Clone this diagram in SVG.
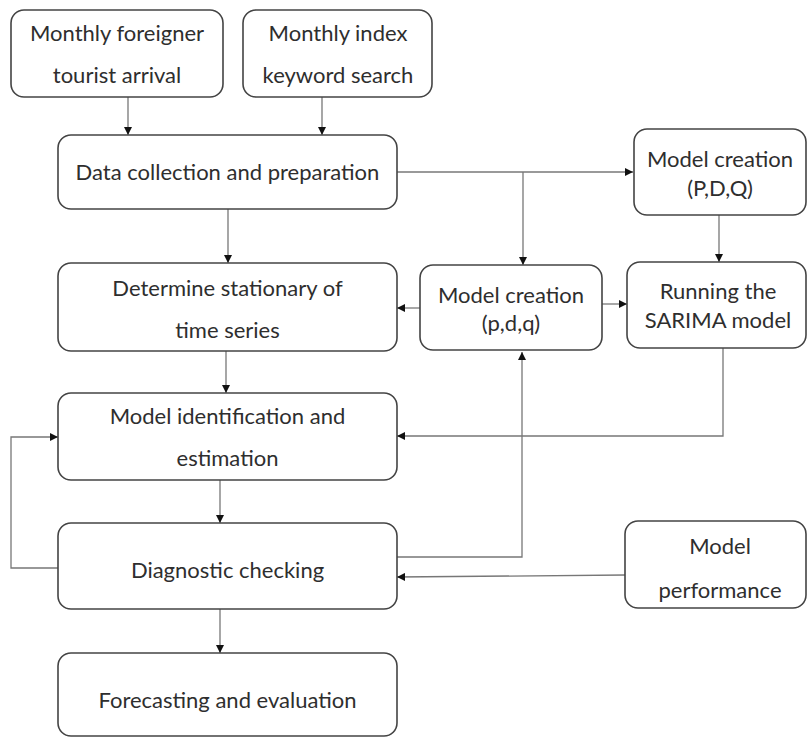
<svg xmlns="http://www.w3.org/2000/svg" width="808" height="738" viewBox="0 0 808 738">
<defs>
<marker id="ah" viewBox="0 0 10 10" refX="10" refY="5" markerWidth="8" markerHeight="8" markerUnits="userSpaceOnUse" orient="auto">
<path d="M0,0 L10,5 L0,10 z" fill="#111"/>
</marker>
<style>
.box{fill:#fff;stroke:#444;stroke-width:1.6}
.t{font-family:Lato,"Open Sans","Liberation Sans",sans-serif;font-size:22px;fill:#2e2e2e;text-anchor:middle}
.c{fill:none;stroke:#777;stroke-width:1.3}
.a{marker-end:url(#ah)}
</style>
</defs>
<rect width="808" height="738" fill="#fff"/>
<g id="connectors">
<path class="c a" d="M128,97 V135"/>
<path class="c a" d="M322,97 V135"/>
<path class="c a" d="M397,172 H633"/>
<path class="c a" d="M523,172 V265"/>
<path class="c a" d="M228,209 V263"/>
<path class="c a" d="M719,215 V262"/>
<path class="c a" d="M420,308 H397"/>
<path class="c a" d="M602,304 H627"/>
<path class="c a" d="M226,351 V393"/>
<path class="c a" d="M723,348 V436 H397"/>
<path class="c a" d="M220,480 V523"/>
<path class="c a" d="M397,557 H522 V352"/>
<path class="c a" d="M625,575 L397,577"/>
<path class="c a" d="M58,568 H11 V437 H58"/>
<path class="c a" d="M220,609 V653"/>
</g>
<g id="n-tourist">
<rect class="box" x="11" y="10" width="212" height="87" rx="13"/>
<text class="t" x="117" y="41">Monthly foreigner</text>
<text class="t" x="117" y="83">tourist arrival</text>
</g>
<g id="n-keyword">
<rect class="box" x="243" y="10" width="189" height="87" rx="13"/>
<text class="t" x="338" y="41">Monthly index</text>
<text class="t" x="338" y="83">keyword search</text>
</g>
<g id="n-data">
<rect class="box" x="58" y="135" width="339" height="74" rx="13"/>
<text class="t" x="227.5" y="180">Data collection and preparation</text>
</g>
<g id="n-pdq-upper">
<rect class="box" x="634" y="129" width="172" height="86" rx="13"/>
<text class="t" x="720" y="167">Model creation</text>
<text class="t" x="720" y="196">(P,D,Q)</text>
</g>
<g id="n-stationary">
<rect class="box" x="58" y="263" width="339" height="88" rx="13"/>
<text class="t" x="227.5" y="296">Determine stationary of</text>
<text class="t" x="227.5" y="338">time series</text>
</g>
<g id="n-pdq-lower">
<rect class="box" x="420" y="265" width="182" height="85" rx="13"/>
<text class="t" x="511" y="303">Model creation</text>
<text class="t" x="511" y="331">(p,d,q)</text>
</g>
<g id="n-sarima">
<rect class="box" x="627" y="262" width="179" height="86" rx="13"/>
<text class="t" x="718" y="299">Running the</text>
<text class="t" x="718" y="328">SARIMA model</text>
</g>
<g id="n-identification">
<rect class="box" x="58" y="393" width="339" height="87" rx="13"/>
<text class="t" x="227.5" y="424">Model identification and</text>
<text class="t" x="227.5" y="466">estimation</text>
</g>
<g id="n-diagnostic">
<rect class="box" x="58" y="523" width="339" height="86" rx="13"/>
<text class="t" x="227.5" y="578">Diagnostic checking</text>
</g>
<g id="n-performance">
<rect class="box" x="625" y="521" width="181" height="87" rx="13"/>
<text class="t" x="720" y="554">Model</text>
<text class="t" x="720" y="598">performance</text>
</g>
<g id="n-forecast">
<rect class="box" x="58" y="653" width="339" height="83" rx="13"/>
<text class="t" x="227.5" y="708">Forecasting and evaluation</text>
</g>
</svg>
